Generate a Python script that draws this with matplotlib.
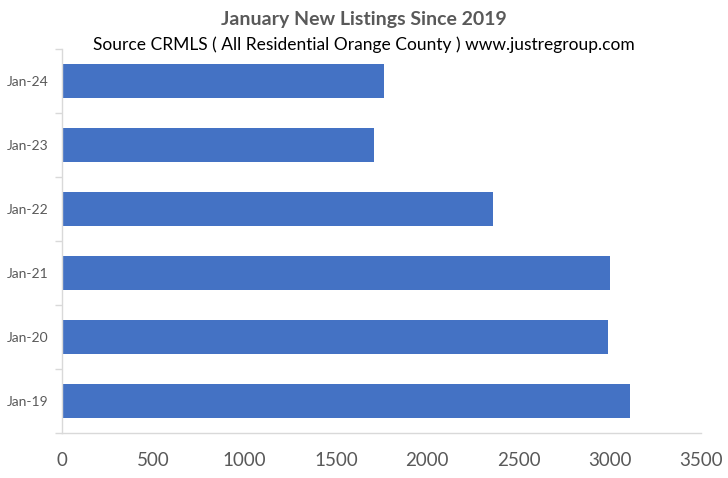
import matplotlib
matplotlib.use("Agg")
import matplotlib.pyplot as plt

categories = ["Jan-19", "Jan-20", "Jan-21", "Jan-22", "Jan-23", "Jan-24"]
values = [3113, 2993, 3003, 2363, 1707, 1763]
xticks = [0, 500, 1000, 1500, 2000, 2500, 3000, 3500]

plt.rcParams['font.family'] = ['Lato', 'DejaVu Sans']

fig = plt.figure(figsize=(7.28, 4.78), dpi=100)
ax = fig.add_axes([62/728, 1-433/478, (701-62)/728, (433-49)/478])

y = list(range(len(categories)))
ax.barh(y, values, height=0.53, color="#4472C4")
ax.set_ylim(-0.5, len(categories)-0.5)
ax.set_xlim(0, 3500)
ax.set_xticks(xticks)
ax.set_xticklabels([str(t) for t in xticks], fontsize=13.5, color="#595959")
ax.set_yticks(y)
ax.set_yticklabels(categories, fontsize=10, color="#595959")
ax.set_yticks([i - 0.5 for i in range(len(categories)+1)], minor=True)

for s in ["top", "right"]:
    ax.spines[s].set_visible(False)
for s in ["left", "bottom"]:
    ax.spines[s].set_color("#D9D9D9")
    ax.spines[s].set_linewidth(1)

ax.tick_params(axis="x", length=0, pad=14)
ax.tick_params(axis="y", which="major", length=0, pad=10)
ax.tick_params(axis="y", which="minor", length=5, color="#D9D9D9", width=1)

fig.text(0.5, 1-19/478, "January New Listings Since 2019", ha="center", va="center",
         fontsize=14, fontweight="bold", color="#595959")
fig.text(0.5, 1-45/478, "Source CRMLS ( All Residential Orange County ) www.justregroup.com",
         ha="center", va="center", fontsize=12.5, color="black")

fig.savefig("out.png", dpi=100)
